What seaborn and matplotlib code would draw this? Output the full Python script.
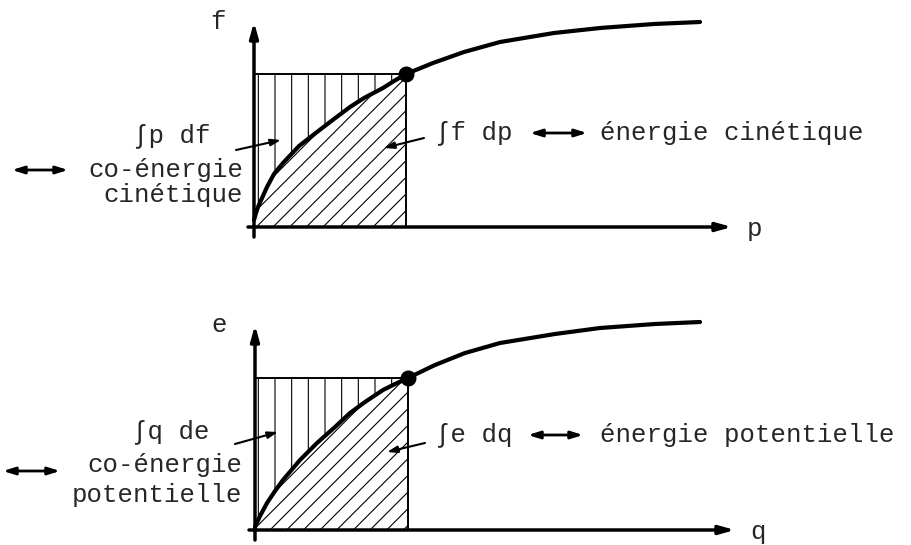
import matplotlib
matplotlib.use("Agg")
import matplotlib.pyplot as plt
import seaborn as sns

# curve (axis units, origin at the axes crossing)
top_p = [0.00, 0.02, 0.04, 0.13, 0.20, 0.29, 0.45, 0.63, 0.80, 0.96, 1.10, 1.29, 1.40, 1.52,
         1.79, 2.10, 2.46, 3.00, 3.46, 4.00, 4.46]
top_f = [0.07, 0.14, 0.20, 0.40, 0.53, 0.64, 0.81, 0.95, 1.08, 1.20, 1.29, 1.39, 1.46, 1.53,
         1.64, 1.75, 1.85, 1.94, 1.99, 2.03, 2.05]
bot_q = [0.00, 0.05, 0.12, 0.20, 0.28, 0.45, 0.62, 0.80, 0.95, 1.10, 1.28, 1.40, 1.53,
         1.80, 2.10, 2.45, 3.00, 3.45, 4.00, 4.45]
bot_e = [0.03, 0.14, 0.27, 0.39, 0.50, 0.70, 0.87, 1.03, 1.17, 1.28, 1.40, 1.46, 1.52,
         1.65, 1.77, 1.87, 1.96, 2.02, 2.06, 2.08]

# operating point (dot) of each panel
top_pt = (1.52, 1.53)
bot_pt = (1.53, 1.52)

top_labels = {"y": "f", "x": "p", "co": "\u222bp df", "en": "\u222bf dp",
              "en_txt": "énergie cinétique", "co_txt": ["co-énergie", "cinétique"]}
bot_labels = {"y": "e", "x": "q", "co": "\u222bq de", "en": "\u222be dq",
              "en_txt": "énergie potentielle", "co_txt": ["co-énergie", "potentielle"]}

sns.set_style("white")
plt.rcParams["font.family"] = ["Liberation Mono", "DejaVu Sans Mono"]
plt.rcParams["hatch.linewidth"] = 0.8

fig = plt.figure(figsize=(9.11, 5.45), dpi=100)
ax_top = fig.add_axes([0, 1 - 272 / 545, 1, 272 / 545])
ax_bot = fig.add_axes([0, 0, 1, 273 / 545])
ax_top.set_xlim(-2.54, 6.57)
ax_top.set_ylim(-0.45, 2.27)
ax_bot.set_xlim(-2.55, 6.56)
ax_bot.set_ylim(-0.15, 2.58)

FS = 18.5


def panel(ax, xs, ys, pt, lab, xtip, ytip, lay):
    ax.axis("off")
    # axes with arrows
    ax.annotate("", xy=(xtip, 0), xytext=(-0.06, 0),
                arrowprops=dict(arrowstyle="-|>,head_length=0.9,head_width=0.25", lw=2.5,
                                color="black", shrinkA=0, shrinkB=0))
    ax.annotate("", xy=(0, ytip), xytext=(0, -0.10),
                arrowprops=dict(arrowstyle="-|>,head_length=0.9,head_width=0.25", lw=2.5,
                                color="black", shrinkA=0, shrinkB=0))
    ax.text(xtip + 0.15, -0.02, lab["x"], fontsize=FS, ha="left", va="center")
    ax.text(-0.36, ytip, lab["y"], fontsize=FS, ha="center", va="center")

    # hatched areas up to the operating point
    xs_in = [x for x in xs if x <= pt[0]]
    ys_in = ys[:len(xs_in)]
    ax.fill_between(xs_in, ys_in, pt[1], facecolor="none", edgecolor="black",
                    hatch="|", linewidth=0)
    ax.fill_between(xs_in, 0, ys_in, facecolor="none", edgecolor="black",
                    hatch="//", linewidth=0)
    ax.plot([0, pt[0], pt[0]], [pt[1], pt[1], 0], color="black", lw=1.4)

    sns.lineplot(x=xs, y=ys, ax=ax, color="black", lw=3, sort=False)
    ax.scatter([pt[0]], [pt[1]], s=110, color="black", zorder=5)

    # pointers
    ax.annotate("", xy=lay["co_head"], xytext=lay["co_tail"],
                arrowprops=dict(arrowstyle="-|>,head_length=0.6,head_width=0.2", lw=1.5,
                                color="black", shrinkA=0, shrinkB=0))
    ax.annotate("", xy=lay["en_head"], xytext=lay["en_tail"],
                arrowprops=dict(arrowstyle="-|>,head_length=0.6,head_width=0.2", lw=1.5,
                                color="black", shrinkA=0, shrinkB=0))

    ax.text(lay["co_xy"][0], lay["co_xy"][1], lab["co"], fontsize=FS, ha="center", va="center")
    ax.text(lay["co_right"], lay["co_y"][0], lab["co_txt"][0], fontsize=FS, ha="right", va="center")
    ax.text(lay["co_right"], lay["co_y"][1], lab["co_txt"][1], fontsize=FS, ha="right", va="center")
    a0, a1, ay = lay["left_arrow"]
    ax.annotate("", xy=(a1, ay), xytext=(a0, ay),
                arrowprops=dict(arrowstyle="<|-|>,head_length=0.7,head_width=0.22", lw=2,
                                color="black", shrinkA=0, shrinkB=0))

    ex, ey = lay["en_xy"]
    ax.text(ex, ey, lab["en"], fontsize=FS, ha="left", va="center")
    b0, b1 = lay["mid_arrow"]
    ax.annotate("", xy=(b1, ey), xytext=(b0, ey),
                arrowprops=dict(arrowstyle="<|-|>,head_length=0.7,head_width=0.22", lw=2,
                                color="black", shrinkA=0, shrinkB=0))
    ax.text(lay["en_txt_x"], ey, lab["en_txt"], fontsize=FS, ha="left", va="center")


top_lay = {"co_head": (0.27, 0.87), "co_tail": (-0.18, 0.77),
           "en_head": (1.30, 0.79), "en_tail": (1.70, 0.89),
           "co_xy": (-0.82, 0.91), "co_right": -0.11, "co_y": (0.57, 0.32),
           "left_arrow": (-2.42, -1.86, 0.57),
           "en_xy": (1.81, 0.94), "mid_arrow": (2.76, 3.33), "en_txt_x": 3.46}
bot_lay = {"co_head": (0.23, 0.98), "co_tail": (-0.20, 0.86),
           "en_head": (1.32, 0.78), "en_tail": (1.70, 0.87),
           "co_xy": (-0.84, 0.98), "co_right": -0.13, "co_y": (0.65, 0.35),
           "left_arrow": (-2.52, -1.95, 0.59),
           "en_xy": (1.80, 0.95), "mid_arrow": (2.73, 3.28), "en_txt_x": 3.45}

panel(ax_top, top_p, top_f, top_pt, top_labels, 4.78, 2.05, top_lay)
panel(ax_bot, bot_q, bot_e, bot_pt, bot_labels, 4.80, 2.05, bot_lay)

fig.savefig("out.png", dpi=100, facecolor="white")
